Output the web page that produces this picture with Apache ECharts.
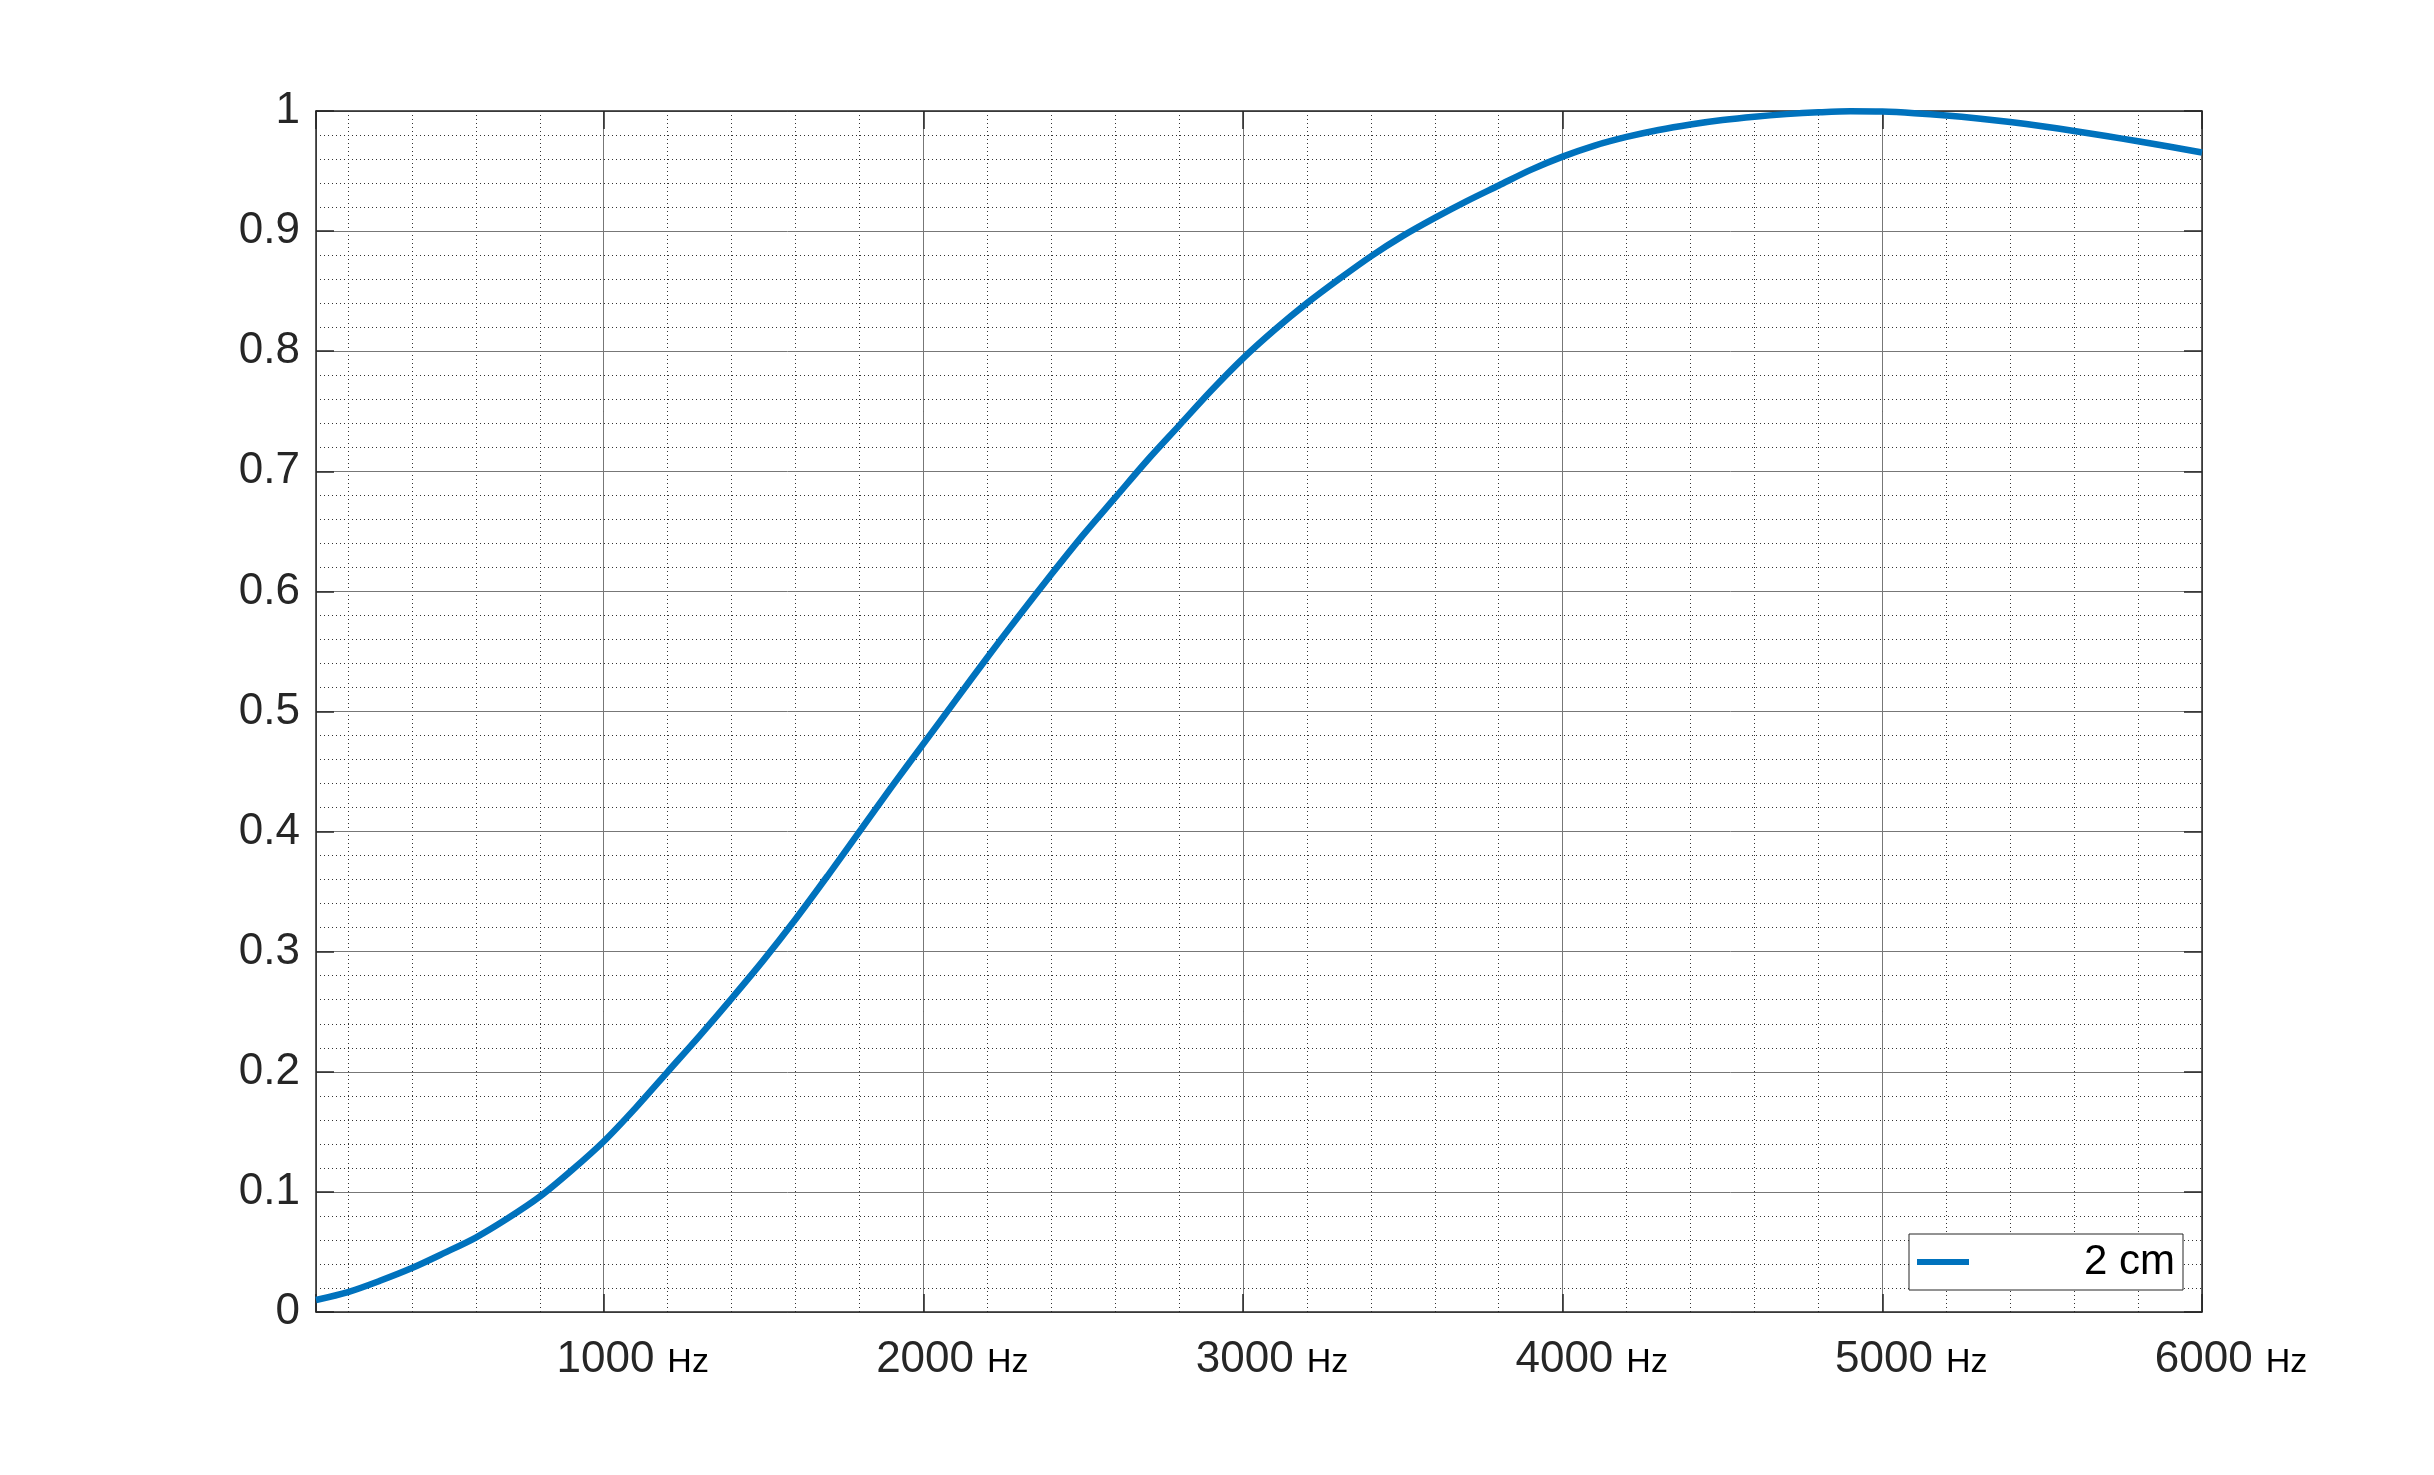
<!DOCTYPE html>
<html>
<head>
<meta charset="utf-8">
<style>
  html, body { margin: 0; padding: 0; background: #ffffff; }
  #chart { width: 2434px; height: 1475px; }
</style>
<script src="https://cdn.jsdelivr.net/npm/echarts@6/dist/echarts.min.js"></script>
</head>
<body>
<div id="chart"></div>
<script>
// ---- data ----
const freqHz = [100, 200, 300, 400, 500, 600, 700, 800, 900, 1000,
  1100, 1200, 1300, 1400, 1500, 1600, 1700, 1800, 1900, 2000,
  2100, 2200, 2300, 2400, 2500, 2600, 2700, 2800, 2900, 3000,
  3100, 3200, 3300, 3400, 3500, 3600, 3700, 3800, 3900, 4000,
  4100, 4200, 4300, 4400, 4500, 4600, 4700, 4800, 4900, 5000,
  5100, 5200, 5300, 5400, 5500, 5600, 5700, 5800, 5900, 6000];
const response2cm = [0.010, 0.0166, 0.026, 0.0366, 0.049, 0.062, 0.078, 0.096, 0.118, 0.142,
  0.170, 0.200, 0.230, 0.261, 0.293, 0.327, 0.363, 0.400, 0.437, 0.473,
  0.509, 0.545, 0.580, 0.614, 0.647, 0.678, 0.709, 0.738, 0.767, 0.794,
  0.818, 0.840, 0.860, 0.879, 0.896, 0.911, 0.925, 0.938, 0.951, 0.962,
  0.9712, 0.9784, 0.9842, 0.9888, 0.9925, 0.9953, 0.9974, 0.9989, 0.9998, 0.9995,
  0.9982, 0.9963, 0.9938, 0.9908, 0.9873, 0.9834, 0.9792, 0.9748, 0.9702, 0.9655];
const seriesName = '2 cm';
const xUnit = 'Hz';
const xMin = 100, xMax = 6000, xMajorStep = 1000, xMinorStep = 200;
const yMin = 0, yMax = 1, yStep = 0.1;

const FONT = '"Liberation Sans", Arial, sans-serif';
const AXIS_COLOR = '#262626';
const MAJOR_GRID = '#777777';
const MINOR_GRID = '#333333';

const chart = echarts.init(document.getElementById('chart'), null, { renderer: 'canvas' });

const option = {
  backgroundColor: '#ffffff',
  animation: false,
  grid: { left: 316, top: 111, right: 232, bottom: 163 },
  legend: {
    data: [{ name: seriesName, icon: 'rect' }],
    left: 1909, top: 1234,
    itemWidth: 52, itemHeight: 6,
    padding: [7, 8, 7, 8],
    borderColor: AXIS_COLOR, borderWidth: 1,
    backgroundColor: '#ffffff',
    selectedMode: false,
    formatter: (n) => '{a|' + n + '}',
    textStyle: {
      rich: { a: { fontSize: 42, width: 201, align: 'right', color: '#000', fontFamily: FONT, lineHeight: 44 } }
    }
  },
  xAxis: [
    {
      type: 'value', position: 'bottom', min: xMin, max: xMax,
      minInterval: xMajorStep, maxInterval: xMajorStep,
      axisLine: { show: true, onZero: false, lineStyle: { color: AXIS_COLOR, width: 1.5 } },
      axisTick: { show: true, inside: true, length: 18, lineStyle: { color: AXIS_COLOR, width: 1.5 } },
      axisLabel: {
        margin: 26,
        formatter: (v) => (v % xMajorStep === 0) ? '{s| }{n|' + v + '}{g| }{h|' + xUnit + '}' : '',
        rich: {
          s: { width: 58, fontSize: 10 },
          n: { fontSize: 44, color: AXIS_COLOR, fontFamily: FONT, verticalAlign: 'bottom' },
          g: { width: 13, fontSize: 10 },
          h: { fontSize: 34, color: '#000', fontFamily: FONT, verticalAlign: 'bottom', padding: [0, 0, 2, 0] }
        }
      },
      splitLine: { show: true, lineStyle: { color: MAJOR_GRID, width: 1 } }
    },
    {
      type: 'value', position: 'top', min: xMin, max: xMax,
      minInterval: xMajorStep, maxInterval: xMajorStep,
      axisLine: { show: true, onZero: false, lineStyle: { color: AXIS_COLOR, width: 1.5 } },
      axisTick: { show: true, inside: true, length: 18, lineStyle: { color: AXIS_COLOR, width: 1.5 } },
      axisLabel: { show: false },
      splitLine: { show: false }
    },
    {
      type: 'value', min: xMin, max: xMax, z: -1,
      minInterval: xMinorStep, maxInterval: xMinorStep,
      axisLine: { show: false },
      axisTick: { show: false },
      axisLabel: { show: false },
      splitLine: { show: true, lineStyle: { color: MINOR_GRID, width: 1, type: [1, 3] } }
    }
  ],
  yAxis: [
    {
      type: 'value', position: 'left', min: yMin, max: yMax, interval: yStep,
      axisLine: { show: true, onZero: false, lineStyle: { color: AXIS_COLOR, width: 1.5 } },
      axisTick: { show: true, inside: true, length: 18, lineStyle: { color: AXIS_COLOR, width: 1.5 } },
      axisLabel: { margin: 16, fontSize: 44, color: AXIS_COLOR, fontFamily: FONT },
      splitLine: { show: true, lineStyle: { color: MAJOR_GRID, width: 1 } },
      minorTick: { show: false, splitNumber: 5 },
      minorSplitLine: { show: true, lineStyle: { color: MINOR_GRID, width: 1, type: [1, 3] } }
    },
    {
      type: 'value', position: 'right', min: yMin, max: yMax, interval: yStep,
      axisLine: { show: true, onZero: false, lineStyle: { color: AXIS_COLOR, width: 1.5 } },
      axisTick: { show: true, inside: true, length: 18, lineStyle: { color: AXIS_COLOR, width: 1.5 } },
      axisLabel: { show: false },
      splitLine: { show: false }
    }
  ],
  series: [
    {
      type: 'line', name: seriesName,
      xAxisIndex: 0, yAxisIndex: 0,
      data: freqHz.map((f, i) => [f, response2cm[i]]),
      showSymbol: false, symbol: 'none',
      smooth: 0.3,
      clip: true,
      z: 5,
      lineStyle: { width: 6.5, color: '#0072BD' },
      itemStyle: { color: '#0072BD' }
    }
  ]
};
chart.setOption(option);
</script>
</body>
</html>
